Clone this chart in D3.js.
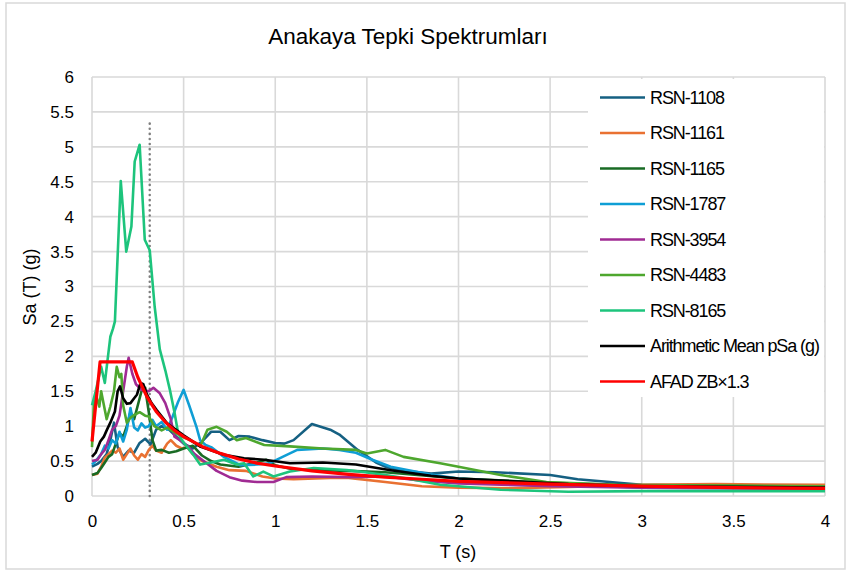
<!DOCTYPE html>
<html>
<head>
<meta charset="utf-8">
<script src="https://cdn.jsdelivr.net/npm/d3@7"></script>
<style>
  body { margin: 0; background: #fff; }
  svg { display: block; font-family: "Liberation Sans", Arial, sans-serif; }
  .grid line { stroke: #d9d9d9; stroke-width: 1.6; }
  .axis path, .axis line { display: none; }
  .axis text { font-size: 17px; fill: #000; }
  .legend text { font-family: "Liberation Sans Narrow", "Liberation Sans", sans-serif; font-size: 18px; letter-spacing: -1.1px; }
</style>
</head>
<body>
<svg id="chart" width="852" height="576"></svg>
<script>
// --- data: [T (s), Sa (g)] ---
const rsn1108 = [[0,0.42],[0.03,0.46],[0.05,0.5],[0.08,0.6],[0.1,0.8],[0.12,1.05],[0.14,0.7],[0.17,0.56],[0.2,0.65],[0.23,0.62],[0.26,0.76],[0.29,0.82],[0.32,0.74],[0.35,0.95],[0.38,1.0],[0.42,0.95],[0.46,0.85],[0.5,0.75],[0.55,0.68],[0.6,0.78],[0.65,0.92],[0.7,0.92],[0.75,0.8],[0.8,0.86],[0.86,0.85],[0.93,0.8],[1.0,0.76],[1.05,0.75],[1.1,0.8],[1.2,1.03],[1.3,0.95],[1.35,0.88],[1.45,0.66],[1.55,0.48],[1.6,0.42],[1.7,0.36],[1.85,0.32],[2.0,0.35],[2.2,0.34],[2.5,0.3],[2.65,0.24],[3.0,0.16],[3.5,0.14],[4.0,0.12]];
const rsn1161 = [[0,0.3],[0.03,0.32],[0.05,0.42],[0.07,0.55],[0.09,0.6],[0.11,0.65],[0.13,0.62],[0.15,0.68],[0.17,0.52],[0.19,0.6],[0.21,0.68],[0.23,0.58],[0.25,0.52],[0.27,0.6],[0.29,0.56],[0.31,0.66],[0.33,0.72],[0.35,0.65],[0.38,0.62],[0.41,0.75],[0.43,0.8],[0.46,0.72],[0.49,0.68],[0.52,0.7],[0.55,0.6],[0.6,0.5],[0.68,0.42],[0.75,0.37],[0.84,0.36],[0.93,0.28],[1.0,0.25],[1.1,0.24],[1.3,0.26],[1.4,0.26],[1.6,0.2],[1.8,0.14],[2.0,0.12],[2.3,0.11],[2.6,0.13],[3.0,0.16],[3.4,0.17],[4.0,0.16]];
const rsn1165 = [[0,0.3],[0.03,0.33],[0.05,0.4],[0.07,0.48],[0.09,0.56],[0.11,0.6],[0.13,0.75],[0.15,0.9],[0.17,0.85],[0.19,1.0],[0.21,1.2],[0.23,1.1],[0.25,1.3],[0.27,1.5],[0.29,1.55],[0.31,1.2],[0.33,0.8],[0.35,0.65],[0.38,0.66],[0.42,0.62],[0.46,0.64],[0.5,0.68],[0.55,0.72],[0.6,0.58],[0.65,0.5],[0.7,0.45],[0.8,0.42],[0.9,0.48],[0.95,0.52],[1.0,0.44],[1.1,0.38],[1.4,0.36],[1.6,0.34],[2.0,0.25],[2.5,0.19],[3.0,0.15],[3.5,0.13],[4.0,0.11]];
const rsn1787 = [[0,0.45],[0.02,0.5],[0.05,0.6],[0.07,0.72],[0.09,0.68],[0.11,0.8],[0.13,0.75],[0.15,0.92],[0.17,0.78],[0.19,0.95],[0.21,1.26],[0.23,0.98],[0.25,0.94],[0.27,1.04],[0.29,0.98],[0.31,1.0],[0.33,1.09],[0.35,1.0],[0.38,1.06],[0.41,0.95],[0.44,1.14],[0.47,1.35],[0.5,1.52],[0.53,1.3],[0.57,0.99],[0.59,0.8],[0.62,0.73],[0.65,0.7],[0.72,0.56],[0.81,0.44],[0.9,0.45],[0.97,0.47],[1.04,0.56],[1.12,0.66],[1.26,0.68],[1.35,0.66],[1.44,0.62],[1.53,0.52],[1.63,0.42],[1.84,0.31],[2.0,0.25],[2.3,0.2],[2.7,0.15],[3.0,0.12],[3.5,0.11],[4.0,0.1]];
const rsn3954 = [[0,0.5],[0.03,0.52],[0.05,0.6],[0.07,0.66],[0.09,0.8],[0.11,0.95],[0.13,1.0],[0.15,1.15],[0.17,1.5],[0.19,1.85],[0.2,1.98],[0.22,1.75],[0.24,1.6],[0.27,1.52],[0.31,1.5],[0.335,1.55],[0.37,1.47],[0.4,1.33],[0.43,1.1],[0.45,0.85],[0.48,0.8],[0.52,0.72],[0.56,0.6],[0.62,0.48],[0.68,0.36],[0.75,0.27],[0.82,0.22],[0.9,0.2],[0.99,0.2],[1.06,0.27],[1.2,0.28],[1.4,0.27],[1.6,0.28],[1.8,0.22],[2.0,0.18],[2.5,0.14],[3.0,0.12],[3.5,0.11],[4.0,0.1]];
const rsn4483 = [[0,0.7],[0.01,1.3],[0.025,1.42],[0.04,1.28],[0.05,1.5],[0.065,1.3],[0.08,1.1],[0.1,1.28],[0.12,1.5],[0.135,1.85],[0.15,1.7],[0.16,1.75],[0.17,1.3],[0.19,1.05],[0.21,1.12],[0.23,1.16],[0.26,1.2],[0.29,1.15],[0.31,1.14],[0.34,1.0],[0.38,0.94],[0.41,0.98],[0.445,0.92],[0.49,0.85],[0.535,0.8],[0.59,0.71],[0.63,0.95],[0.68,0.99],[0.735,0.92],[0.79,0.8],[0.84,0.83],[0.94,0.73],[1.08,0.71],[1.26,0.68],[1.44,0.66],[1.5,0.61],[1.6,0.66],[1.7,0.56],[1.9,0.47],[2.0,0.42],[2.23,0.3],[2.48,0.2],[2.85,0.16],[3.5,0.15],[4.0,0.14]];
const rsn8165 = [[0,1.3],[0.02,1.5],[0.05,1.85],[0.07,1.62],[0.1,2.28],[0.115,2.4],[0.125,2.5],[0.157,4.51],[0.187,3.5],[0.215,3.86],[0.233,4.79],[0.26,5.03],[0.288,3.67],[0.315,3.52],[0.342,2.71],[0.37,2.1],[0.4,1.8],[0.425,1.52],[0.45,1.2],[0.47,0.9],[0.49,0.8],[0.55,0.6],[0.59,0.45],[0.65,0.48],[0.72,0.52],[0.79,0.45],[0.83,0.47],[0.88,0.28],[0.935,0.35],[0.99,0.28],[1.08,0.35],[1.21,0.4],[1.39,0.37],[1.46,0.35],[1.6,0.3],[1.72,0.25],[1.9,0.16],[2.23,0.09],[2.6,0.06],[3.0,0.07],[3.5,0.07],[4.0,0.07]];
const meanSa = [[0,0.56],[0.02,0.62],[0.045,0.78],[0.065,0.85],[0.08,0.94],[0.1,1.05],[0.125,1.21],[0.14,1.5],[0.153,1.57],[0.17,1.4],[0.19,1.32],[0.21,1.33],[0.23,1.4],[0.245,1.45],[0.265,1.62],[0.28,1.6],[0.3,1.45],[0.325,1.33],[0.353,1.23],[0.41,1.04],[0.5,0.87],[0.59,0.71],[0.72,0.59],[0.83,0.54],[0.94,0.52],[1.08,0.47],[1.26,0.48],[1.44,0.45],[1.63,0.37],[1.85,0.29],[2.0,0.25],[2.3,0.21],[2.6,0.17],[3.0,0.14],[3.5,0.13],[4.0,0.12]];
const afadZb = [[0,0.78],[0.044,1.92],[0.22,1.92],[0.25,1.7],[0.3,1.42],[0.35,1.21],[0.4,1.06],[0.45,0.94],[0.5,0.85],[0.6,0.71],[0.7,0.61],[0.8,0.53],[0.9,0.47],[1.0,0.43],[1.2,0.36],[1.4,0.31],[1.6,0.27],[1.8,0.24],[2.0,0.21],[2.5,0.17],[3.0,0.14],[3.5,0.12],[4.0,0.11]];
const markerT = [[0.315,0],[0.315,5.4]];

const seriesNames = ["RSN-1108","RSN-1161","RSN-1165","RSN-1787","RSN-3954","RSN-4483","RSN-8165","Arithmetic Mean pSa (g)","AFAD ZB×1.3"];
const seriesData = [rsn1108, rsn1161, rsn1165, rsn1787, rsn3954, rsn4483, rsn8165, meanSa, afadZb];
const seriesColors = ["#156082","#E97132","#196B24","#0F9ED5","#A02B93","#4EA72E","#1DC47C","#000000","#FF0000"];
const xTicks = [0,0.5,1,1.5,2,2.5,3,3.5,4];
const yTicks = [0,0.5,1,1.5,2,2.5,3,3.5,4,4.5,5,5.5,6];

const svg = d3.select("#chart");

// chart frame
svg.append("rect")
  .attr("x", 6).attr("y", 3).attr("width", 839).attr("height", 566)
  .attr("fill", "#fff").attr("stroke", "#d9d9d9").attr("stroke-width", 1.5);

const x = d3.scaleLinear().domain([0, 4]).range([92, 825]);
const y = d3.scaleLinear().domain([0, 6]).range([496, 77]);

// grid
const grid = svg.append("g").attr("class", "grid");
grid.selectAll("line.h").data(yTicks).join("line")
  .attr("class", "h")
  .attr("x1", x(0)).attr("x2", x(4))
  .attr("y1", d => y(d)).attr("y2", d => y(d));
grid.selectAll("line.v").data(xTicks).join("line")
  .attr("class", "v")
  .attr("y1", y(0)).attr("y2", y(6))
  .attr("x1", d => x(d)).attr("x2", d => x(d));

// axes
svg.append("g").attr("class", "axis")
  .attr("transform", `translate(${x(0)},0)`)
  .call(d3.axisLeft(y).tickValues(yTicks).tickSize(0).tickPadding(18).tickFormat(d3.format("~g")));
svg.append("g").attr("class", "axis")
  .attr("transform", `translate(0,${y(0)})`)
  .call(d3.axisBottom(x).tickValues(xTicks).tickSize(0).tickPadding(19).tickFormat(d3.format("~g")));

// dotted marker line
const line = d3.line().x(d => x(d[0])).y(d => y(d[1]));
svg.append("path")
  .attr("d", line(markerT))
  .attr("fill", "none").attr("stroke", "#7f7f7f").attr("stroke-width", 2.5)
  .attr("stroke-dasharray", "0.1 5").attr("stroke-linecap", "round");

// series
svg.append("g").selectAll("path.series").data(seriesData).join("path")
  .attr("class", "series")
  .attr("d", d => line(d))
  .attr("fill", "none")
  .attr("stroke", (d, i) => seriesColors[i])
  .attr("stroke-width", (d, i) => i === 8 ? 3.2 : 2.6)
  .attr("stroke-linejoin", "round");

// legend
const legend = svg.append("g").attr("class", "legend");
legend.append("rect")
  .attr("x", 588).attr("y", 79).attr("width", 236).attr("height", 318).attr("fill", "#fff");
const items = legend.selectAll("g.item").data(seriesNames).join("g")
  .attr("class", "item")
  .attr("transform", (d, i) => `translate(600,${97.5 + i * 35.5})`);
items.append("line")
  .attr("x1", 0).attr("x2", 45)
  .attr("stroke", (d, i) => seriesColors[i]).attr("stroke-width", 2.6);
items.append("text")
  .attr("x", 50).attr("dy", "0.35em")
  .text(d => d);

// titles
svg.append("text")
  .attr("x", 408).attr("y", 44).attr("text-anchor", "middle")
  .attr("font-size", 22.5).text("Anakaya Tepki Spektrumları");
svg.append("text")
  .attr("x", 458).attr("y", 558).attr("text-anchor", "middle")
  .attr("font-size", 18).text("T (s)");
svg.append("text")
  .attr("transform", "translate(36,287) rotate(-90)")
  .attr("text-anchor", "middle")
  .attr("font-size", 18).text("Sa (T) (g)");
</script>
</body>
</html>
